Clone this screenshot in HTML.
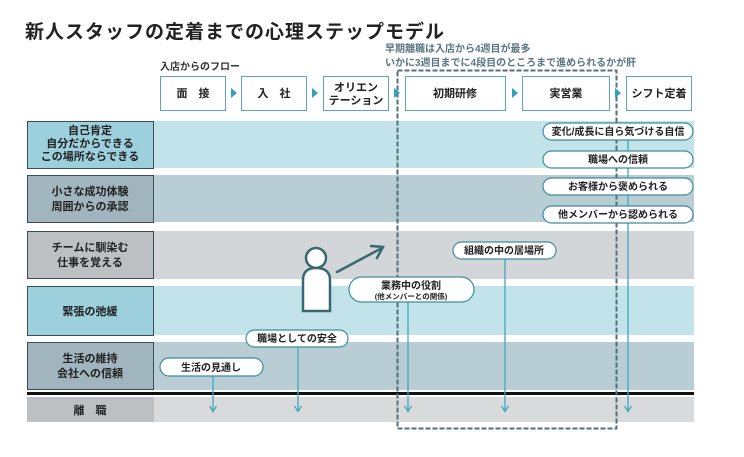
<!DOCTYPE html>
<html><head><meta charset="utf-8"><style>
html,body{margin:0;padding:0;background:#fff;}
svg{display:block;font-family:"Liberation Sans","Noto Sans CJK JP",sans-serif;}
</style></head><body>
<svg width="744" height="457" viewBox="0 0 744 457" xmlns="http://www.w3.org/2000/svg">
<text x="25" y="38" font-size="19" font-weight="bold" fill="#222" letter-spacing="1">新人スタッフの定着までの心理ステップモデル</text>
<text x="385" y="52" font-size="10" font-weight="bold" fill="#5a7682">早期離職は入店から4週目が最多</text>
<text x="385" y="66" font-size="10" font-weight="bold" fill="#5a7682">いかに3週目までに4段目のところまで進められるかが肝</text>
<text x="160" y="70" font-size="10" font-weight="bold" fill="#333">入店からのフロー</text>

<!-- bands -->
<rect x="154" y="121" width="540" height="47" fill="#c3e3eb"/>
<rect x="154" y="175" width="540" height="47" fill="#b9cdd4"/>
<rect x="154" y="231" width="540" height="48" fill="#d3d6d8"/>
<rect x="154" y="286" width="540" height="49" fill="#c3e3eb"/>
<rect x="154" y="342" width="540" height="48" fill="#b9cdd4"/>
<rect x="27" y="397" width="667" height="25" fill="#d8dadb"/>
<rect x="27" y="392" width="667" height="3" fill="#111"/>

<!-- label boxes -->
<g stroke="#3d4c52" stroke-width="1">
<rect x="27.5" y="121.5" width="126" height="47" fill="#9dd0dd"/>
<rect x="27.5" y="175.5" width="126" height="47" fill="#a0b5bd"/>
<rect x="27.5" y="231.5" width="126" height="47" fill="#bcc0c3"/>
<rect x="27.5" y="286.5" width="126" height="49" fill="#9dd0dd"/>
<rect x="27.5" y="342.5" width="126" height="47" fill="#a0b5bd"/>
</g>
<rect x="27" y="397" width="127" height="25" fill="#bcc0c3"/>
<g font-size="11" font-weight="bold" fill="#222" text-anchor="middle">
<text x="90" y="134">自己肯定</text>
<text x="90" y="147">自分だからできる</text>
<text x="90" y="160">この場所ならできる</text>
<text x="90" y="195">小さな成功体験</text>
<text x="90" y="210">周囲からの承認</text>
<text x="90" y="251">チームに馴染む</text>
<text x="90" y="266">仕事を覚える</text>
<text x="90" y="315">緊張の弛緩</text>
<text x="90" y="362">生活の維持</text>
<text x="90" y="377">会社への信頼</text>
<text x="90" y="414">離　職</text>
</g>

<!-- dashed rect -->
<rect x="397.5" y="70.5" width="219" height="358" fill="none" stroke="#52707c" stroke-width="2" stroke-dasharray="5,2"/>

<!-- flow boxes -->
<g fill="#fff" stroke="#5fa6b5" stroke-width="1">
<rect x="160.5" y="76.5" width="65" height="34"/>
<rect x="241.5" y="76.5" width="65" height="34"/>
<rect x="323.5" y="76.5" width="65" height="34"/>
<rect x="405.5" y="76.5" width="100" height="34"/>
<rect x="522.5" y="76.5" width="87" height="34"/>
<rect x="626.5" y="76.5" width="65" height="34"/>
</g>
<g fill="#2fa3b8">
<path d="M231,88 L237,93 L231,98Z"/>
<path d="M312,88 L318,93 L312,98Z"/>
<path d="M394,88 L400,93 L394,98Z"/>
<path d="M512,88 L518,93 L512,98Z"/>
<path d="M615,88 L621,93 L615,98Z"/>
</g>
<g font-size="11" font-weight="bold" fill="#222" text-anchor="middle">
<text x="193" y="97">面　接</text>
<text x="274" y="97">入　社</text>
<text x="356" y="91">オリエン</text>
<text x="356" y="104">テーション</text>
<text x="455" y="97">初期研修</text>
<text x="566" y="97">実営業</text>
<text x="659" y="97">シフト定着</text>
</g>

<!-- connector lines -->
<g stroke="#3fa8bf" stroke-width="1.3" fill="none">
<line x1="628" y1="140" x2="628" y2="411"/>
<line x1="505" y1="258" x2="505" y2="411"/>
<line x1="408" y1="302" x2="408" y2="411"/>
<line x1="298" y1="347" x2="298" y2="411"/>
<line x1="213" y1="376" x2="213" y2="411"/>
<path d="M624.5,406 L628,411.5 L631.5,406"/>
<path d="M501.5,406 L505,411.5 L508.5,406"/>
<path d="M404.5,406 L408,411.5 L411.5,406"/>
<path d="M294.5,406 L298,411.5 L301.5,406"/>
<path d="M209.5,406 L213,411.5 L216.5,406"/>
</g>

<!-- pills -->
<g fill="#fff" stroke="#3d8d9e" stroke-width="1.2">
<rect x="543" y="123" width="150" height="17" rx="8.5"/>
<rect x="543" y="151" width="150" height="17" rx="8.5"/>
<rect x="543" y="178" width="150" height="17" rx="8.5"/>
<rect x="543" y="206" width="150" height="17" rx="8.5"/>
<rect x="453" y="242" width="103" height="17" rx="8.5"/>
<rect x="349" y="277" width="125" height="25" rx="12.5"/>
<rect x="246" y="330" width="102" height="17" rx="8.5"/>
<rect x="160" y="358" width="103" height="18" rx="9"/>
</g>
<g font-size="10" font-weight="bold" fill="#222" text-anchor="middle">
<text x="618" y="135">変化/成長に自ら気づける自信</text>
<text x="618" y="163">職場への信頼</text>
<text x="618" y="190">お客様から褒められる</text>
<text x="618" y="218">他メンバーから認められる</text>
<text x="504" y="254">組織の中の居場所</text>
<text x="411" y="289">業務中の役割</text>
<text x="411" y="299" font-size="7.5">(他メンバーとの関係)</text>
<text x="297" y="342">職場としての安全</text>
<text x="211" y="371">生活の見通し</text>
</g>

<!-- person -->
<g stroke="#3a6872" stroke-width="2.5" fill="#fff">
<circle cx="316" cy="258" r="10"/>
<path d="M303,311 L303,280 Q303,268 316,268 Q330,268 330,280 L330,311 Z"/>
</g>
<g stroke="#3a6872" stroke-width="2.5" fill="none" stroke-linecap="round">
<line x1="337" y1="272" x2="382" y2="248"/>
<path d="M371,246 L383,247 L377,258"/>
</g>
</svg>
</body></html>
